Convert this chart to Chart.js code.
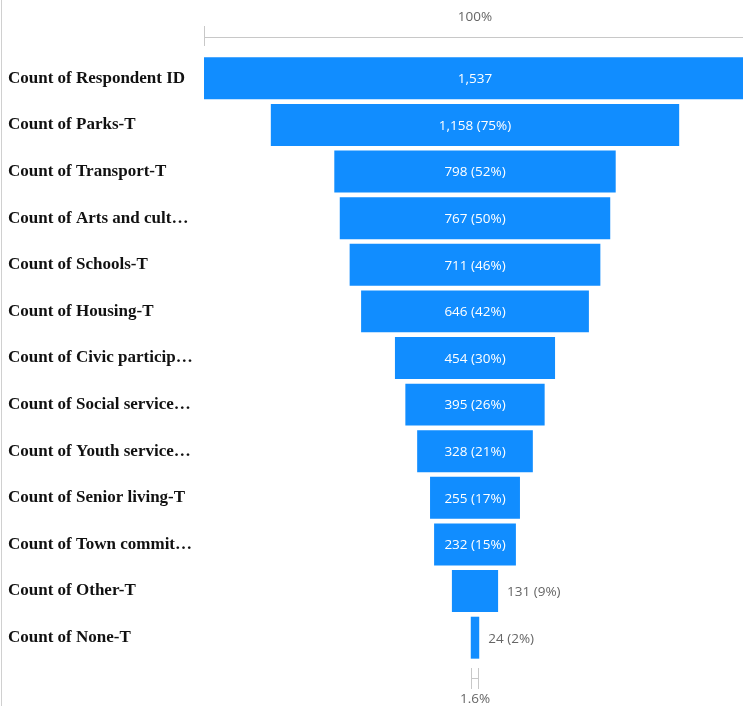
<!DOCTYPE html>
<html>
<head>
<meta charset="utf-8">
<script src="https://cdn.jsdelivr.net/npm/chart.js@4"></script>
<style>
  html, body { margin: 0; padding: 0; background: #fff; overflow: hidden; }
  /* plot runs a few pixels past the right edge, as in the original visual */
  #wrap { width: 746px; height: 706px; position: relative; }
</style>
</head>
<body>
<div id="wrap"><canvas id="funnel"></canvas></div>
<script>
// funnel stages, as shown in the visual (long names are cut off there)
const stages = [
  'Count of Respondent ID',
  'Count of Parks-T',
  'Count of Transport-T',
  'Count of Arts and cult…',
  'Count of Schools-T',
  'Count of Housing-T',
  'Count of Civic particip…',
  'Count of Social service…',
  'Count of Youth service…',
  'Count of Senior living-T',
  'Count of Town commit…',
  'Count of Other-T',
  'Count of None-T'
];
const counts = [1537, 1158, 798, 767, 711, 646, 454, 395, 328, 255, 232, 131, 24];

const maxCount = counts[0];
const mid = maxCount / 2;
// floating bars centred on the middle of the axis
const spans = counts.map(v => [mid - v / 2, mid + v / 2]);

const fmt = n => n.toLocaleString('en-US');
const pct = v => Math.round(v / maxCount * 100) + '%';

const valueFont = '13.5px "Open Sans", "Noto Sans", sans-serif';

const funnelDecor = {
  id: 'funnelDecor',
  afterDatasetsDraw(chart) {
    const ctx = chart.ctx;
    const x = chart.scales.x;
    const meta = chart.getDatasetMeta(0);
    ctx.save();
    ctx.font = valueFont;
    ctx.textBaseline = 'middle';
    ctx.textAlign = 'center';
    meta.data.forEach((bar, i) => {
      const txt = i === 0 ? fmt(counts[i]) : fmt(counts[i]) + ' (' + pct(counts[i]) + ')';
      const w = ctx.measureText(txt).width;
      const left = x.getPixelForValue(spans[i][0]);
      const right = x.getPixelForValue(spans[i][1]);
      if (w + 12 < right - left) {
        ctx.fillStyle = '#ffffff';
        ctx.textAlign = 'center';
        ctx.fillText(txt, (left + right) / 2, bar.y + 1);
      } else {
        ctx.fillStyle = '#666666';
        ctx.textAlign = 'left';
        ctx.fillText(txt, right + 9, bar.y + 1);
      }
    });

    // top reference line (100%)
    const x0 = x.getPixelForValue(0);
    const x1 = x.getPixelForValue(maxCount);
    const cx = x.getPixelForValue(mid);
    ctx.strokeStyle = '#c8c8c8';
    ctx.lineWidth = 1;
    ctx.beginPath();
    ctx.moveTo(x0, 37.5); ctx.lineTo(x1, 37.5);
    ctx.moveTo(x0 + 0.5, 26); ctx.lineTo(x0 + 0.5, 46);
    ctx.stroke();
    ctx.fillStyle = '#666666';
    ctx.textAlign = 'center';
    ctx.fillText('100%', cx, 17);

    // bottom marker: width of last stage
    const last = counts[counts.length - 1];
    const bl = Math.round(x.getPixelForValue(mid - last / 2)) + 0.5;
    const br = Math.round(x.getPixelForValue(mid + last / 2)) - 0.5;
    ctx.beginPath();
    ctx.moveTo(bl, 668); ctx.lineTo(bl, 689);
    ctx.moveTo(br, 668); ctx.lineTo(br, 689);
    ctx.moveTo(bl, 678.5); ctx.lineTo(br, 678.5);
    ctx.stroke();
    ctx.fillText((last / maxCount * 100).toFixed(1) + '%', cx, 699);

    // left frame line
    ctx.strokeStyle = '#d0d0d0';
    ctx.beginPath();
    ctx.moveTo(1.5, 0); ctx.lineTo(1.5, chart.height);
    ctx.stroke();
    ctx.restore();
  }
};

new Chart(document.getElementById('funnel'), {
  type: 'bar',
  data: {
    labels: stages,
    datasets: [{
      data: spans,
      backgroundColor: '#118DFF',
      borderWidth: 0,
      barPercentage: 0.9,
      categoryPercentage: 1
    }]
  },
  options: {
    indexAxis: 'y',
    responsive: true,
    maintainAspectRatio: false,
    animation: false,
    layout: { padding: { top: 55, bottom: 45, left: 8, right: 0 } },
    plugins: { legend: { display: false }, tooltip: { enabled: false } },
    scales: {
      x: { display: false, min: 0, max: maxCount },
      y: {
        grid: { display: false },
        border: { display: false },
        ticks: {
          crossAlign: 'far',
          color: '#111111',
          padding: 0,
          font: { family: '"Liberation Serif", "Times New Roman", serif', size: 17, weight: 'bold' }
        },
        afterFit(scale) { scale.width = 196; }
      }
    }
  },
  plugins: [funnelDecor]
});
</script>
</body>
</html>
